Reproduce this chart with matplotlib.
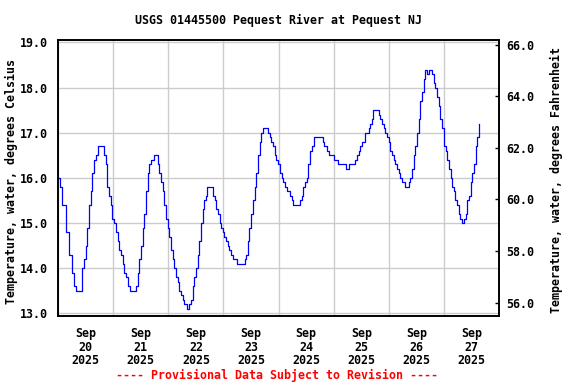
import numpy as np
import pandas as pd
import matplotlib
matplotlib.use("Agg")
import matplotlib.pyplot as plt
import matplotlib.dates as mdates
from matplotlib.ticker import FixedLocator, FuncFormatter

# Hours after 2025-09-20 00:00 and water temperature (deg C)
hours = [0.0, 0.7, 1.9, 3.3, 4.8, 6.3, 7.0, 7.9, 9.7, 10.6, 11.3, 12.1, 12.8, 13.5, 14.3,
         15.0, 15.7, 16.4, 17.5, 19.3, 20.1, 20.8, 21.5, 22.3, 23.0, 23.7, 24.4, 25.2,
         25.9, 26.6, 27.3, 28.1, 28.8, 29.5, 30.3, 31.3, 33.3, 33.9, 34.6, 35.3, 36.1,
         36.8, 37.5, 38.3, 39.0, 39.7, 40.4, 41.2, 41.6, 42.3, 43.3, 44.1, 44.8, 45.5,
         46.3, 47.0, 47.7, 48.4, 49.2, 49.9, 50.6, 51.3, 52.1, 52.8, 53.5, 54.3, 55.0,
         56.0, 57.2, 57.9, 58.6, 59.3, 60.1, 60.8, 61.5, 62.3, 63.0, 63.7, 64.4, 64.7,
         66.8, 67.3, 68.1, 68.8, 69.5, 70.3, 71.0, 71.7, 72.4, 73.2, 73.9, 74.6, 75.3,
         76.1, 77.8, 80.6, 81.2, 81.9, 82.6, 83.3, 84.1, 84.8, 85.5, 86.3, 87.0, 87.7,
         88.4, 89.2, 89.6, 90.3, 91.3, 92.1, 92.8, 93.5, 94.2, 95.0, 95.7, 96.4,
         96.6, 97.3, 98.0, 98.8, 99.5, 100.2, 100.9, 101.7, 102.4, 105.0, 105.3, 106.0,
         106.8, 107.5, 108.2, 108.9, 109.7, 110.4, 111.4, 114.5, 115.1, 115.8, 116.9,
         118.0, 119.1, 119.9, 121.7, 124.9, 125.1, 126.4, 126.5, 129.0, 129.3, 130.0,
         130.8, 131.5, 132.2, 132.9, 133.7, 135.1, 135.9, 136.6, 137.0, 138.9, 139.5,
         140.2, 140.9, 141.7, 142.4, 143.1, 143.9, 144.6, 145.3, 146.0, 146.8, 147.5,
         148.2, 148.9, 149.7, 150.8, 152.1, 152.6, 153.3, 154.0, 154.8, 155.5, 156.2,
         156.9, 157.7, 158.4, 159.1, 159.6, 160.1, 160.6, 161.3, 162.0, 162.8, 163.5,
         164.2, 164.9, 165.7, 166.4, 167.1, 167.9, 168.6, 169.3, 170.0, 170.8, 171.5,
         172.2, 172.9, 173.7, 174.4, 175.1, 175.9, 176.6, 177.3, 178.0, 178.8, 179.5,
         180.2, 180.9, 181.7, 182.4, 183.1]
temps = [16.0, 15.8, 15.4, 14.8, 14.3, 13.9, 13.6, 13.5, 13.5, 14.0, 14.2, 14.5, 14.9, 15.4, 15.7,
         16.1, 16.4, 16.5, 16.7, 16.7, 16.5, 16.3, 15.8, 15.6, 15.4, 15.1, 15.0, 14.8,
         14.6, 14.4, 14.3, 14.1, 13.9, 13.8, 13.6, 13.5, 13.5, 13.6, 13.9, 14.2, 14.5,
         14.9, 15.2, 15.7, 16.1, 16.3, 16.4, 16.4, 16.5, 16.5, 16.3, 16.1, 15.9, 15.7,
         15.4, 15.1, 14.9, 14.7, 14.4, 14.2, 14.0, 13.8, 13.7, 13.5, 13.4, 13.3, 13.2,
         13.1, 13.2, 13.3, 13.6, 13.8, 14.0, 14.3, 14.6, 15.0, 15.3, 15.5, 15.6, 15.8,
         15.8, 15.6, 15.5, 15.3, 15.2, 15.0, 14.9, 14.8, 14.7, 14.6, 14.5, 14.4, 14.3,
         14.2, 14.1, 14.1, 14.2, 14.3, 14.6, 14.9, 15.2, 15.5, 15.8, 16.1, 16.5, 16.8,
         17.0, 17.1, 17.1, 17.1, 17.0, 16.9, 16.8, 16.7, 16.5, 16.4, 16.3, 16.3,
         16.1, 16.0, 15.9, 15.8, 15.7, 15.7, 15.6, 15.5, 15.4, 15.4, 15.5, 15.6,
         15.8, 15.9, 16.0, 16.3, 16.6, 16.7, 16.9, 16.9, 16.8, 16.7, 16.6,
         16.5, 16.5, 16.4, 16.3, 16.3, 16.2, 16.2, 16.3, 16.3, 16.4, 16.5,
         16.6, 16.7, 16.8, 16.8, 17.0, 17.1, 17.2, 17.3, 17.5, 17.5, 17.4,
         17.3, 17.2, 17.1, 17.0, 16.9, 16.8, 16.6, 16.5, 16.4, 16.3, 16.2,
         16.1, 16.0, 15.9, 15.8, 15.8, 15.9, 16.0, 16.2, 16.5, 16.7, 17.0,
         17.3, 17.7, 17.9, 18.2, 18.4, 18.4, 18.3, 18.4, 18.4, 18.3, 18.1,
         18.0, 17.8, 17.6, 17.3, 17.1, 16.7, 16.6, 16.4, 16.2, 16.0, 15.8,
         15.7, 15.5, 15.4, 15.2, 15.1, 15.0, 15.1, 15.2, 15.5, 15.6, 15.9,
         16.1, 16.3, 16.7, 16.9, 17.2]

celsius_ticks = [13.0, 14.0, 15.0, 16.0, 17.0, 18.0, 19.0]
fahrenheit_ticks = [56.0, 58.0, 60.0, 62.0, 64.0, 66.0]
day_labels = ["Sep\n20\n2025", "Sep\n21\n2025", "Sep\n22\n2025", "Sep\n23\n2025",
              "Sep\n24\n2025", "Sep\n25\n2025", "Sep\n26\n2025", "Sep\n27\n2025"]

title = "USGS 01445500 Pequest River at Pequest NJ"
left_label = "Temperature, water, degrees Celsius"
right_label = "Temperature, water, degrees Fahrenheit"
footer = "---- Provisional Data Subject to Revision ----"

FONT = "DejaVu Sans Mono"
FS = 8.4

start = pd.Timestamp("2025-09-20")
times = start + pd.to_timedelta(hours, unit="h")

fig = plt.figure(figsize=(5.76, 3.84), dpi=100)
ax = fig.add_axes([58 / 576, 1 - 315.7 / 384, (499.3 - 58) / 576, (315.7 - 40) / 384])

ax.plot(times, temps, color="#0000FF", lw=0.9, drawstyle="steps-post", zorder=3)

ax.set_xlim(start, start + pd.Timedelta(days=8))
ax.set_ylim(12.947, 19.055)

midnights = [start + pd.Timedelta(days=i) for i in range(9)]
noons = [start + pd.Timedelta(days=i, hours=12) for i in range(8)]
ax.xaxis.set_major_locator(FixedLocator(mdates.date2num(midnights)))
ax.xaxis.set_major_formatter(FuncFormatter(lambda v, p: ""))
ax.xaxis.set_minor_locator(FixedLocator(mdates.date2num(noons)))
ax.set_xticks(mdates.date2num(noons), minor=True)
ax.set_xticklabels(day_labels, minor=True, fontfamily=FONT, fontweight="bold",
                   fontsize=FS, linespacing=1.07)
ax.tick_params(axis="x", which="both", length=0, pad=8)

ax.set_yticks(celsius_ticks)
ax.set_yticklabels([f"{v:.1f}" for v in celsius_ticks], fontfamily=FONT,
                   fontweight="bold", fontsize=FS)
ax.tick_params(axis="y", length=0, pad=7)

ax.grid(True, which="major", color="#cccccc", lw=1.0)
for s in ax.spines.values():
    s.set_linewidth(1.2)
    s.set_color("black")

ax2 = ax.twinx()
ax2.set_ylim(55.49, 66.19)
ax2.set_yticks(fahrenheit_ticks)
ax2.set_yticklabels([f"{v:.1f}" for v in fahrenheit_ticks], fontfamily=FONT,
                    fontweight="bold", fontsize=FS)
ax2.tick_params(axis="y", direction="in", length=3, width=1, pad=5)
for s in ax2.spines.values():
    s.set_linewidth(1.2)

fig.text(278.4 / 576, 1 - 20 / 384, title, ha="center", va="center",
         fontfamily=FONT, fontweight="bold", fontsize=FS)
fig.text(11 / 576, 1 - 182 / 384, left_label, rotation=90, ha="center", va="center",
         fontfamily=FONT, fontweight="bold", fontsize=FS)
fig.text(556 / 576, 1 - 180 / 384, right_label, rotation=90, ha="center", va="center",
         fontfamily=FONT, fontweight="bold", fontsize=FS)
fig.text(277.2 / 576, 1 - 375 / 384, footer, ha="center", va="center", color="red",
         fontfamily=FONT, fontweight="bold", fontsize=FS)

fig.savefig("out.png", dpi=100)
